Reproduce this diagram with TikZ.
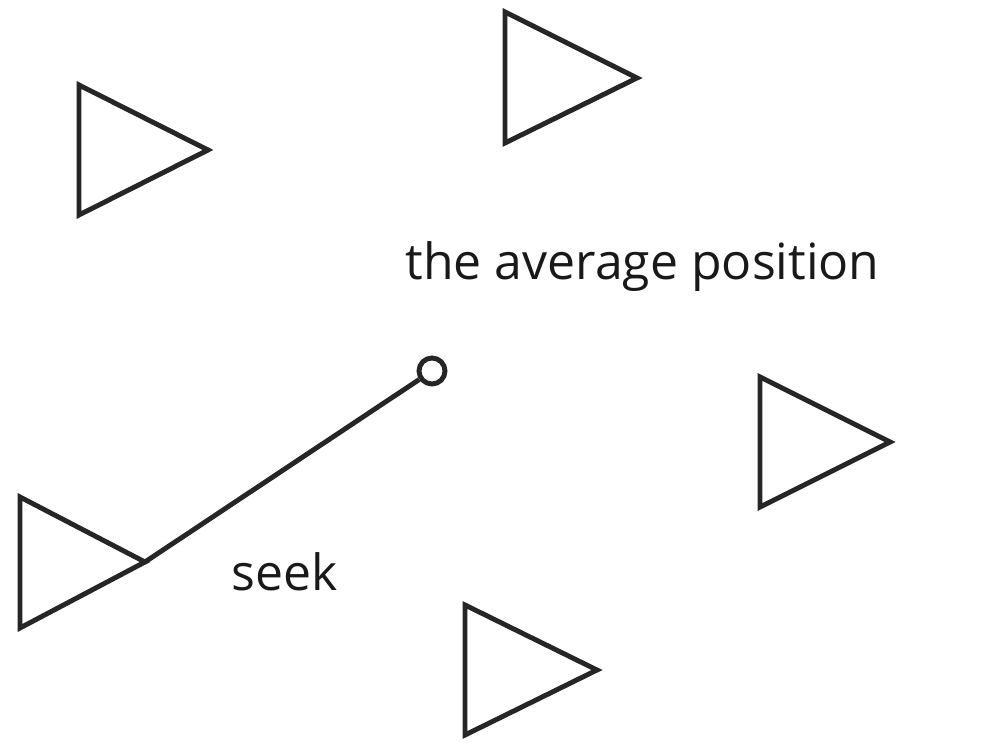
\documentclass[tikz,border=0pt]{standalone}
\usepackage{fontspec}
\setmainfont{Open Sans}
\begin{document}
\begin{tikzpicture}[x={(0.01cm,0)},y={(0,-0.01cm)},
  boid/.style={draw=black!85,line width=1.4pt,line join=miter},
  lbl/.style={font=\fontsize{14.2}{16}\selectfont,text=black!90,inner sep=0pt}]
\useasboundingbox (0,0) rectangle (994,743);
% triangles (left-top, left-bottom, tip)
\draw[boid] (79,85) -- (79,215) -- (208,150) -- cycle;
\draw[boid] (505,12) -- (505,143) -- (637,78) -- cycle;
\draw[boid] (760,377) -- (760,507) -- (890,442) -- cycle;
\draw[boid] (465,605) -- (465,735) -- (597,670) -- cycle;
\draw[boid] (20,497) -- (20,628) -- (145,562) -- cycle;
\coordinate (tip) at (145,562);
\node[circle,draw=black!85,line width=1.4pt,minimum size=26*0.01cm,inner sep=0pt] (avg) at (432,371) {};
\draw[boid] (tip) -- (avg);
\node[lbl,anchor=base west] (avglbl) at (405,280) {the average position};
\node[lbl,anchor=base west] (seeklbl) at (231,590) {seek};
\end{tikzpicture}
\end{document}
